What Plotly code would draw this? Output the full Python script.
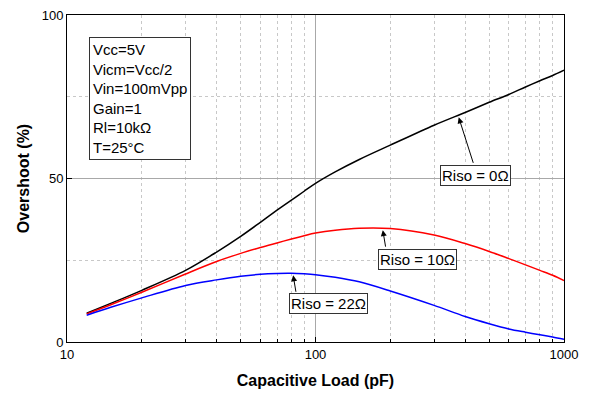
import math
import plotly.graph_objects as go

cap_pf = [12, 15, 20, 30, 40, 50, 60, 70, 80, 90, 100, 120, 150, 200, 300, 400, 500, 600, 700, 800, 900, 1000]
riso_0 = [8.8, 11.8, 15.8, 21.9, 27.5, 32.3, 36.6, 40.3, 43.4, 46.1, 48.5, 52.0, 55.8, 60.2, 66.3, 70.2, 73.3, 75.7, 78.0, 79.9, 81.5, 83.1]
riso_10 = [8.6, 11.4, 15.2, 20.8, 24.6, 27.1, 28.9, 30.3, 31.5, 32.5, 33.3, 34.2, 34.8, 34.7, 32.7, 30.1, 27.7, 25.5, 23.6, 21.9, 20.4, 18.8]
riso_22 = [8.2, 10.6, 13.5, 17.3, 19.0, 20.1, 20.7, 20.95, 21.0, 20.85, 20.6, 19.8, 18.4, 15.6, 11.2, 7.8, 5.6, 4.0, 3.0, 2.2, 1.5, 0.8]

series_names = ["Riso = 0Ω", "Riso = 10Ω", "Riso = 22Ω"]
series_colors = ["#000000", "#ff0000", "#0000ff"]

x_ticks = [10, 100, 1000]
x_minor = [20, 30, 40, 50, 60, 70, 80, 90, 200, 300, 400, 500, 600, 700, 800, 900]
y_ticks = [0, 50, 100]
y_minor = [25, 75]

conditions = ["Vcc=5V", "Vicm=Vcc/2", "Vin=100mVpp", "Gain=1", "Rl=10kΩ", "T=25°C"]

FONT = "Liberation Sans, Arial, sans-serif"

fig = go.Figure()
for name, ys, col in zip(series_names, [riso_0, riso_10, riso_22], series_colors):
    fig.add_trace(go.Scatter(x=cap_pf, y=ys, mode="lines", name=name,
                             line=dict(color=col, width=1.5, shape="spline", smoothing=0.9)))

# conditions box
fig.add_annotation(xref="paper", yref="paper", x=0.044, y=0.932, xanchor="left", yanchor="top",
                   text="<br>".join(conditions), align="left", showarrow=False,
                   font=dict(family=FONT, size=15, color="black"),
                   bordercolor="#333", borderwidth=1, borderpad=3, bgcolor="white")

# label boxes
label_pos = [(0.822, 0.508), (0.706, 0.253), (0.526, 0.117)]
for name, (px, py) in zip(series_names, label_pos):
    fig.add_annotation(xref="paper", yref="paper", x=px, y=py, xanchor="center", yanchor="middle",
                       text=name, showarrow=False, font=dict(family=FONT, size=15, color="black"),
                       bordercolor="#333", borderwidth=1, borderpad=1, bgcolor="white")

# arrows (head near curve, tail at label box)
arrow_heads = [(377, 68.7, 15, 47), (186.6, 34.2, 3, 18), (81.3, 20.4, 3, 18)]
for c, yv, ax, ay in arrow_heads:
    fig.add_annotation(x=math.log10(c), y=yv, xref="x", yref="y", text="", showarrow=True,
                       ax=ax, ay=ay, axref="pixel", ayref="pixel",
                       arrowhead=2, arrowsize=1.2, arrowwidth=1, arrowcolor="black")

fig.update_xaxes(type="log", range=[1, 3], tickvals=x_ticks, ticktext=[str(v) for v in x_ticks],
                 showline=True, linecolor="black", linewidth=1, mirror=True,
                 ticks="inside", ticklen=5, tickcolor="black",
                 showgrid=True, gridcolor="#a8a8a8", gridwidth=1,
                 minor=dict(tickvals=x_minor, ticks="inside", ticklen=3, tickcolor="black",
                            showgrid=True, gridcolor="#c8c8c8", griddash="dot", gridwidth=1),
                 tickfont=dict(family=FONT, size=13, color="black"),
                 title=dict(text="<b>Capacitive Load (pF)</b>", font=dict(family=FONT, size=16, color="black"),
                            standoff=14),
                 zeroline=False, automargin=False)
fig.update_yaxes(range=[0, 100], tickvals=y_ticks,
                 showline=True, linecolor="black", linewidth=1, mirror=True,
                 ticks="inside", ticklen=5, tickcolor="black",
                 showgrid=True, gridcolor="#a8a8a8", gridwidth=1,
                 minor=dict(tickvals=y_minor, ticks="", showgrid=True, gridcolor="#c8c8c8",
                            griddash="dot", gridwidth=1),
                 tickfont=dict(family=FONT, size=13, color="black"),
                 title=dict(text="<b>Overshoot (%)</b>", font=dict(family=FONT, size=16, color="black"),
                            standoff=8),
                 zeroline=False, automargin=False)

fig.update_layout(width=593, height=394, margin=dict(l=67, r=29, t=15, b=52),
                  paper_bgcolor="white", plot_bgcolor="white", showlegend=False)

fig.write_html("out.html", config={"displayModeBar": False},
               post_script="document.body.style.margin='0';")
